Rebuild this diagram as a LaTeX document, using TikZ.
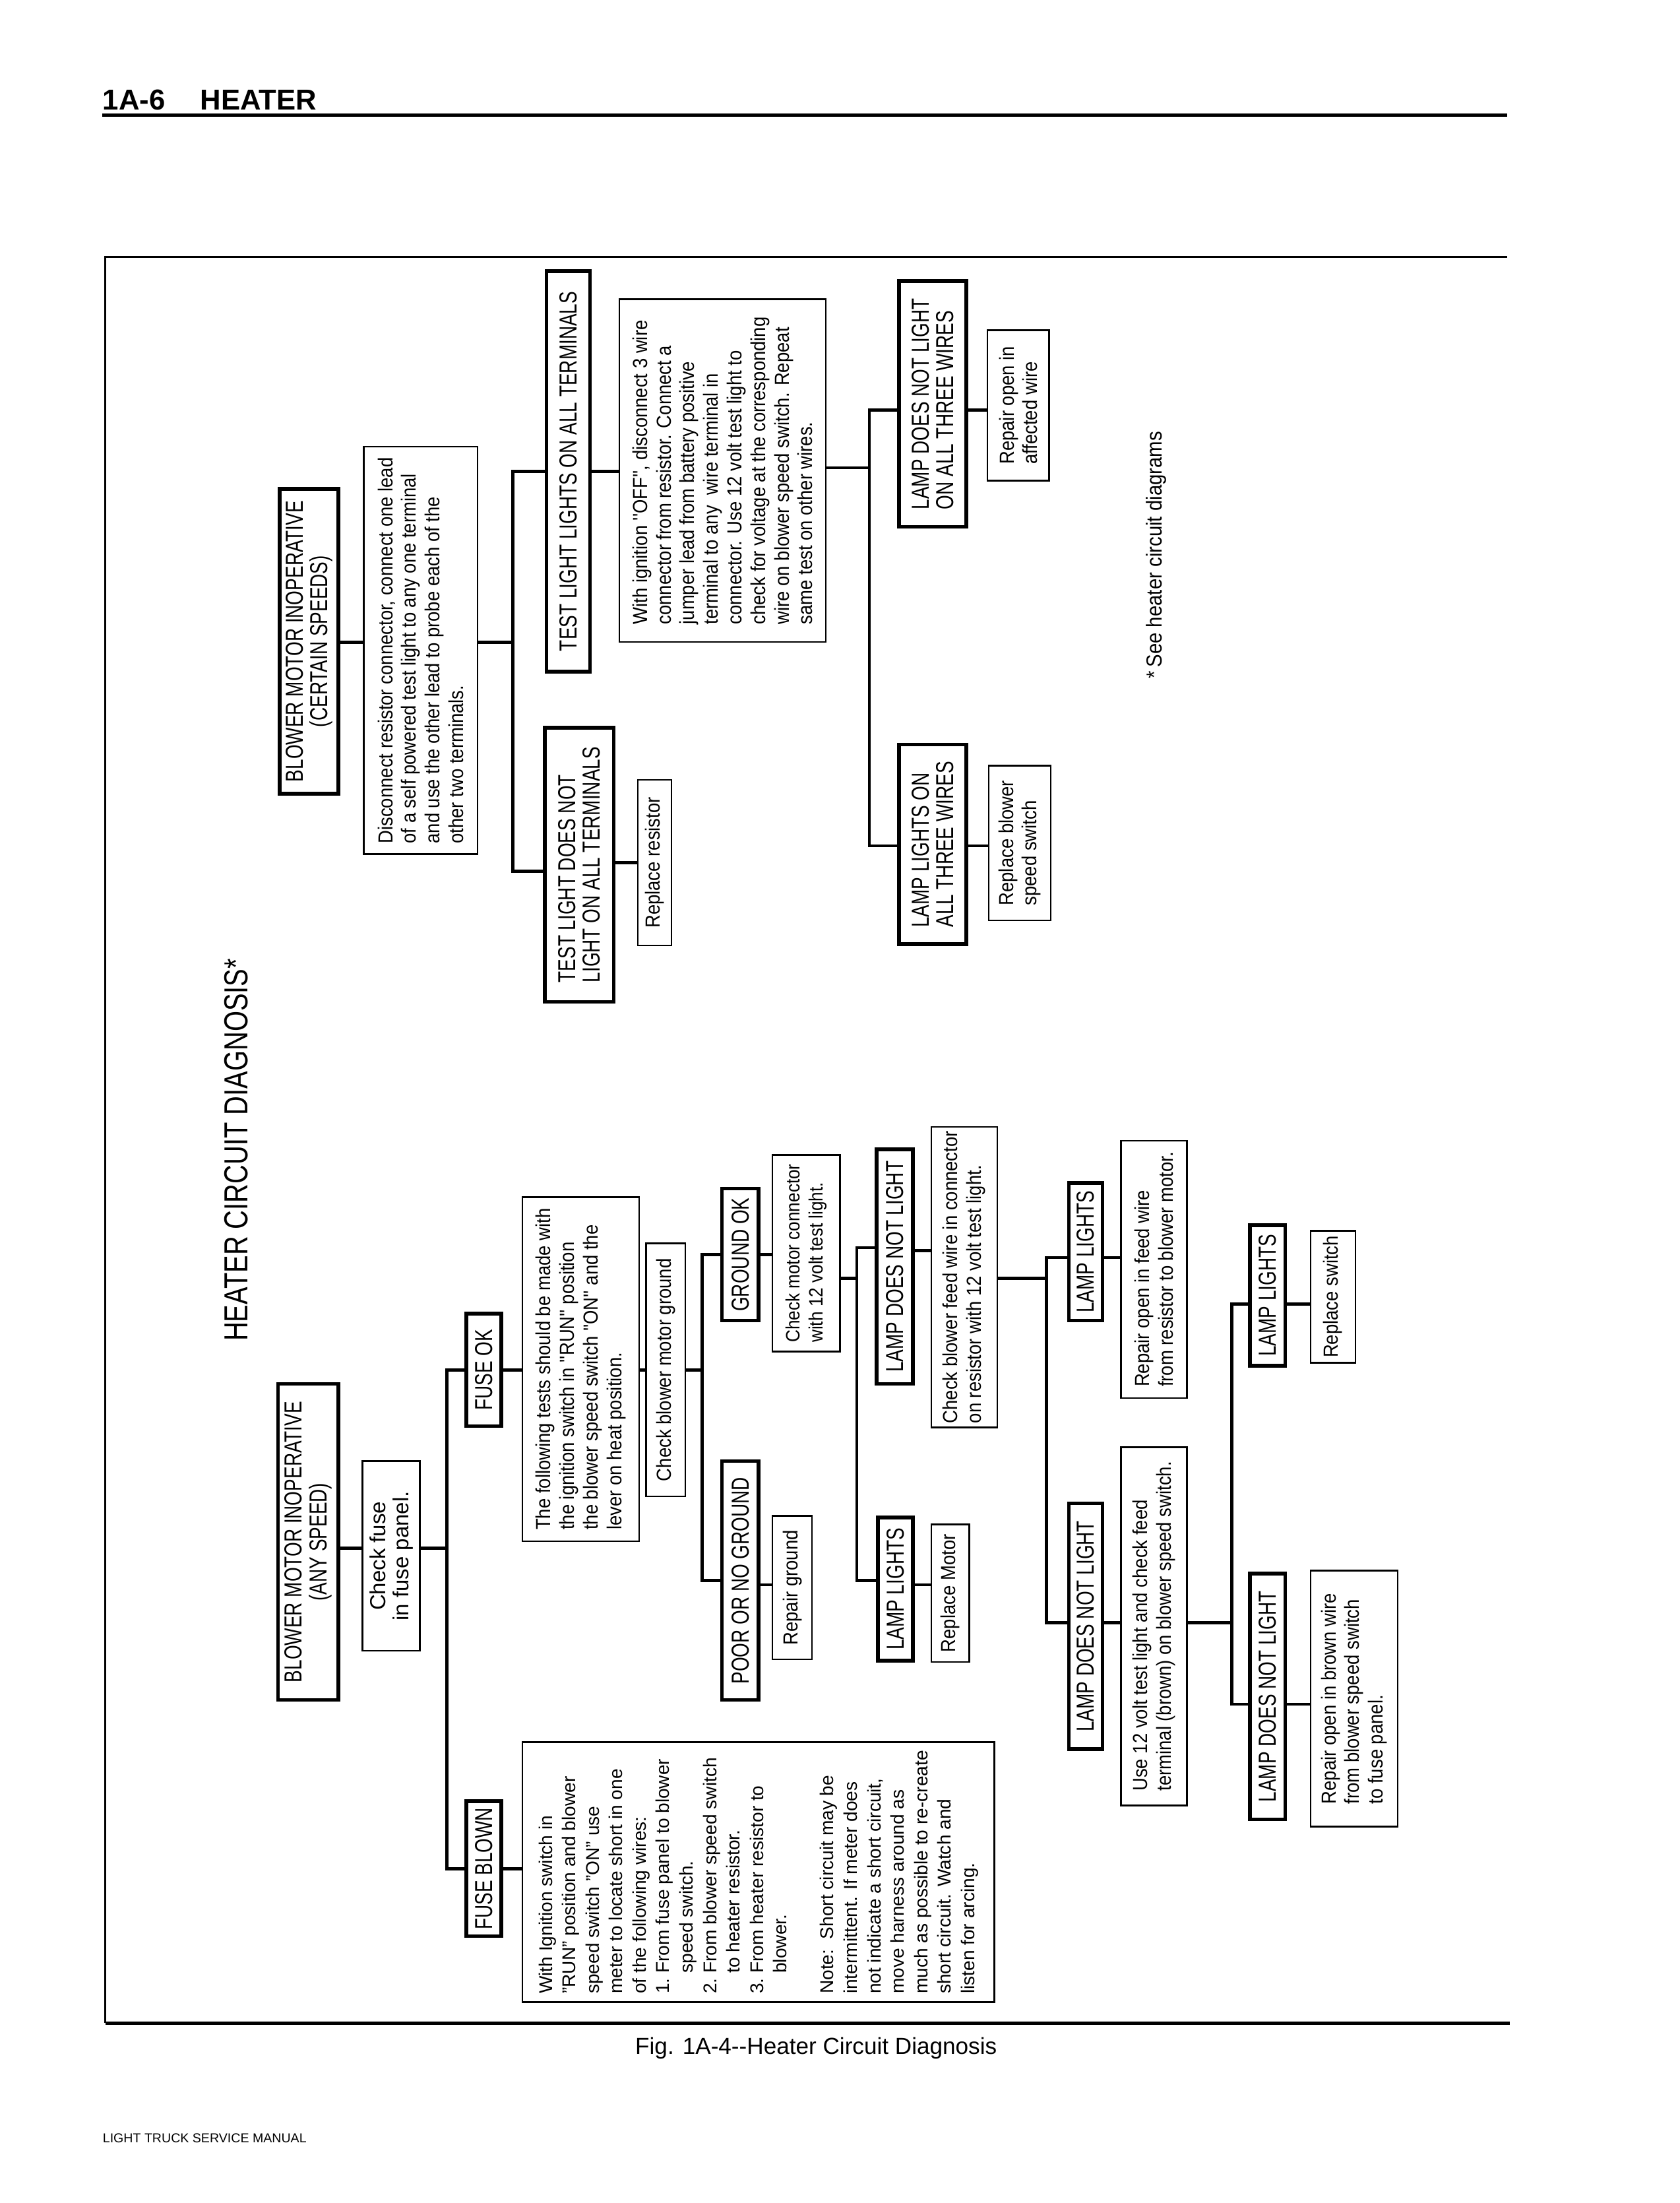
\documentclass[tikz,border=0pt]{standalone}
\usepackage{fontspec}
\setmainfont{Liberation Sans}
\newfontfamily\capf[FakeStretch=0.75]{Liberation Sans}
\newfontfamily\bodyf[FakeStretch=0.89]{Liberation Sans}
\newfontfamily\titlef[FakeStretch=0.79]{Liberation Sans}
\tikzset{
  base/.style={rotate=90, inner sep=0pt, draw, fill=white, align=left},
  hbox/.style={base, line width=2.6pt, font=\capf\fontsize{17.5}{17.5}\selectfont},
  sbox/.style={base, line width=1.2pt, font=\bodyf\fontsize{14.5}{16.8}\selectfont},
  sz/.style 2 args={minimum width=#1pt, minimum height=#2pt},
  wire/.style={line width=2.2pt},
}
\begin{document}
\begin{tikzpicture}[x=1pt,y=-1pt]
\path[use as bounding box, fill=white] (0,0) rectangle (1196,1568);

% header, frame, captions
\node[anchor=base west, font=\bfseries\fontsize{20.5}{24}\selectfont, inner sep=0pt] (hd) at (73,78) {1A-6\hspace{25pt}HEATER};
\draw[line width=2.5pt] (73,82) -- (1073,82);
\draw[line width=1.5pt] (1073,183) -- (75,183) -- (75,1440);
\draw[line width=2.5pt] (75,1440) -- (1075,1440);
\node[font=\fontsize{16.5}{19}\selectfont, inner sep=0pt] (cap) at (581,1458) {Fig. 1A-4-{}-Heater Circuit Diagnosis};
\node[anchor=west, font=\fontsize{9.2}{11}\selectfont, inner sep=0pt] (ft) at (73,1522) {LIGHT TRUCK SERVICE MANUAL};
\node[rotate=90, font=\titlef\fontsize{23.7}{28}\selectfont, inner sep=0pt] (title) at (168,818.5) {HEATER CIRCUIT DIAGNOSIS*};
\node[rotate=90, font=\bodyf\fontsize{15.5}{18}\selectfont, inner sep=0pt] (note) at (823,395) {*\,See heater circuit diagrams};

% ---------- certain speeds tree ----------
\node[hbox, sz={217}{42}, align=center] (bmc) at (220,456.5) {BLOWER MOTOR INOPERATIVE\\(CERTAIN SPEEDS)};
\node[sbox, sz={290}{81}] (disc) at (299.5,463) {Disconnect resistor connector, connect one lead\\of a self powered test light to any one terminal\\and use the other lead to probe each of the\\other two terminals.};
\node[hbox, sz={285}{31}] (tll) at (404.5,335.5) {TEST LIGHT LIGHTS ON ALL TERMINALS};
\node[hbox, sz={195}{49}] (tdn) at (412.5,615.5) {TEST LIGHT DOES NOT\\LIGHT ON ALL TERMINALS};
\node[sbox, sz={118}{24}] (rres) at (466,614) {Replace resistor};
\node[sbox, sz={244}{147}] (woff) at (514.5,335) {With ignition ''OFF'', disconnect 3 wire\\connector from resistor. Connect a\\jumper lead from battery positive\\terminal to any\ \ wire terminal in\\connector. Use 12 volt test light to\\check for voltage at the corresponding\\wire on blower speed switch. Repeat\\same test on other wires.};
\node[hbox, sz={175}{48}] (ldn3) at (664,287.5) {LAMP DOES NOT LIGHT\\ON ALL THREE WIRES};
\node[sbox, sz={107}{44}] (roaw) at (725,288.5) {Repair open in\\affected wire};
\node[hbox, sz={142}{48}] (ll3) at (664,601) {LAMP LIGHTS ON\\ALL THREE WIRES};
\node[sbox, sz={110}{44}] (rbss) at (726,600) {Replace blower\\speed switch};

\draw[wire] (bmc.south |- 0,457) -- (disc.north |- 0,457);
\coordinate (t2) at (365,457);
\draw[wire] (disc.south |- t2) -- (t2);
\draw[wire] (tll.north) -| (t2);
\draw[wire] (tdn.north |- 0,620) -| (t2);
\draw[wire] (tdn.south |- 0,614) -- (rres.north |- 0,614);
\draw[wire] (tll.south) -- (woff.north |- tll.south);
\coordinate (t3) at (619,333);
\draw[wire] (woff.south |- t3) -- (t3);
\draw[wire] (ldn3.north |- 0,292) -| (t3);
\draw[wire] (ll3.north |- 0,602) -| (t3);
\draw[wire] (ldn3.south |- 0,292) -- (roaw.north |- 0,292);
\draw[wire] (ll3.south |- 0,602) -- (rbss.north |- 0,602);

% ---------- any speed tree ----------
\node[hbox, sz={225}{43}, align=center] (bma) at (219.5,1097.5) {BLOWER MOTOR INOPERATIVE\\(ANY SPEED)};
\node[sbox, sz={135}{41}, align=center, font=\fontsize{15.5}{16.5}\selectfont] (chf) at (278.5,1107.5) {Check fuse\\in fuse panel.};
\node[hbox, sz={80}{25}] (fok) at (344.5,975) {FUSE OK};
\node[hbox, sz={96}{25}] (fbl) at (344.5,1330) {FUSE BLOWN};
\node[sbox, sz={185}{336}, font=\fontsize{13.2}{16.7}\selectfont] (fbt) at (540,1332.5) {With Ignition switch in\\
''RUN'' position and blower\\
speed switch ''ON'' use\\
meter to locate short in one\\
of the following wires:\\
1.\ From fuse panel to blower\\
\phantom{1.\ }speed switch.\\
2.\ From blower speed switch\\
\phantom{2.\ }to heater resistor.\\
3.\ From heater resistor to\\
\phantom{3.\ }blower.\\[16.7pt]
Note:\ \ Short circuit may be\\
intermittent. If meter does\\
not indicate a short circuit,\\
move harness around as\\
much as possible to re-create\\
short circuit. Watch and\\
listen for arcing.};
\node[sbox, sz={245}{83}] (ftt) at (413.5,974.5) {The following tests should be made with\\the ignition switch in ''RUN'' position\\the blower speed switch ''ON'' and the\\lever on heat position.};
\node[sbox, sz={180}{28}] (cbg) at (474,975) {Check blower motor ground};
\node[hbox, sz={94}{26}] (gok) at (527,893) {GROUND OK};
\node[sbox, sz={140}{48}, font=\bodyf\fontsize{13.8}{16.8}\selectfont] (cmc) at (574,892) {Check motor connector\\with 12 volt test light.};
\node[hbox, sz={170}{26}] (png) at (527,1125) {POOR OR NO GROUND};
\node[sbox, sz={102}{28}] (rgr) at (564,1130) {Repair ground};
\node[hbox, sz={167}{26}] (ldn1) at (637,901.5) {LAMP DOES NOT LIGHT};
\node[hbox, sz={102}{25}] (ll1) at (637.5,1131) {LAMP LIGHTS};
\node[sbox, sz={98}{27}] (rmot) at (676.5,1134) {Replace Motor};
\node[sbox, sz={214}{47}] (cbf) at (686.5,909) {Check blower feed wire in connector\\on resistor with 12 volt test light.};
\node[hbox, sz={98}{24}] (ll2) at (773,891) {LAMP LIGHTS};
\node[sbox, sz={183}{47}] (rof) at (821.5,903.5) {Repair open in feed wire\\from resistor to blower motor.};
\node[hbox, sz={175}{24}] (ldn2) at (773,1157.5) {LAMP DOES NOT LIGHT};
\node[sbox, sz={255}{47}] (u12) at (821.5,1157.5) {Use 12 volt test light and check feed\\terminal (brown) on blower speed switch.};
\node[hbox, sz={100}{25}] (ll3b) at (902.5,922) {LAMP LIGHTS};
\node[sbox, sz={94}{32}] (rsw) at (949,923) {Replace switch};
\node[hbox, sz={175}{25}] (ldn4) at (902.5,1207.5) {LAMP DOES NOT LIGHT};
\node[sbox, sz={182}{62}] (robw) at (964,1209) {Repair open in brown wire\\from blower speed switch\\to fuse panel.};

\coordinate (t1) at (318,1102);
\draw[wire] (bma.south |- t1) -- (chf.north |- t1);
\draw[wire] (chf.south |- t1) -- (t1);
\draw[wire] (fok.north) -| (t1);
\draw[wire] (fbl.north) -| (t1);
\draw[wire] (fbl.south) -- (fbt.north |- fbl.south);
\draw[wire] (fok.south) -- (ftt.north |- fok.south);
\draw[wire] (ftt.south |- cbg.north) -- (cbg.north);
\coordinate (t4) at (500,975);
\draw[wire] (cbg.south) -- (t4);
\draw[wire] (gok.north |- 0,893) -| (t4);
\draw[wire] (png.north) -| (t4);
\draw[wire] (gok.south |- 0,893) -- (cmc.north |- 0,893);
\draw[wire] (png.south |- 0,1128) -- (rgr.north |- 0,1128);
\coordinate (t5) at (610,910);
\draw[wire] (cmc.south |- t5) -- (t5);
\draw[wire] (ldn1.north |- 0,888) -| (t5);
\draw[wire] (ll1.north |- 0,1125) -| (t5);
\draw[wire] (ldn1.south |- 0,890) -- (cbf.north |- 0,890);
\draw[wire] (ll1.south |- 0,1128) -- (rmot.north |- 0,1128);
\coordinate (t6) at (745,910);
\draw[wire] (cbf.south |- t6) -- (t6);
\draw[wire] (ll2.north |- 0,895) -| (t6);
\draw[wire] (ldn2.north |- 0,1155) -| (t6);
\draw[wire] (ll2.south |- 0,895) -- (rof.north |- 0,895);
\draw[wire] (ldn2.south |- 0,1155) -- (u12.north |- 0,1155);
\coordinate (t7) at (877,1155);
\draw[wire] (u12.south |- t7) -- (t7);
\draw[wire] (ll3b.north |- 0,928) -| (t7);
\draw[wire] (ldn4.north |- 0,1213) -| (t7);
\draw[wire] (ll3b.south |- 0,928) -- (rsw.north |- 0,928);
\draw[wire] (ldn4.south |- 0,1213) -- (robw.north |- 0,1213);
\end{tikzpicture}
\end{document}
